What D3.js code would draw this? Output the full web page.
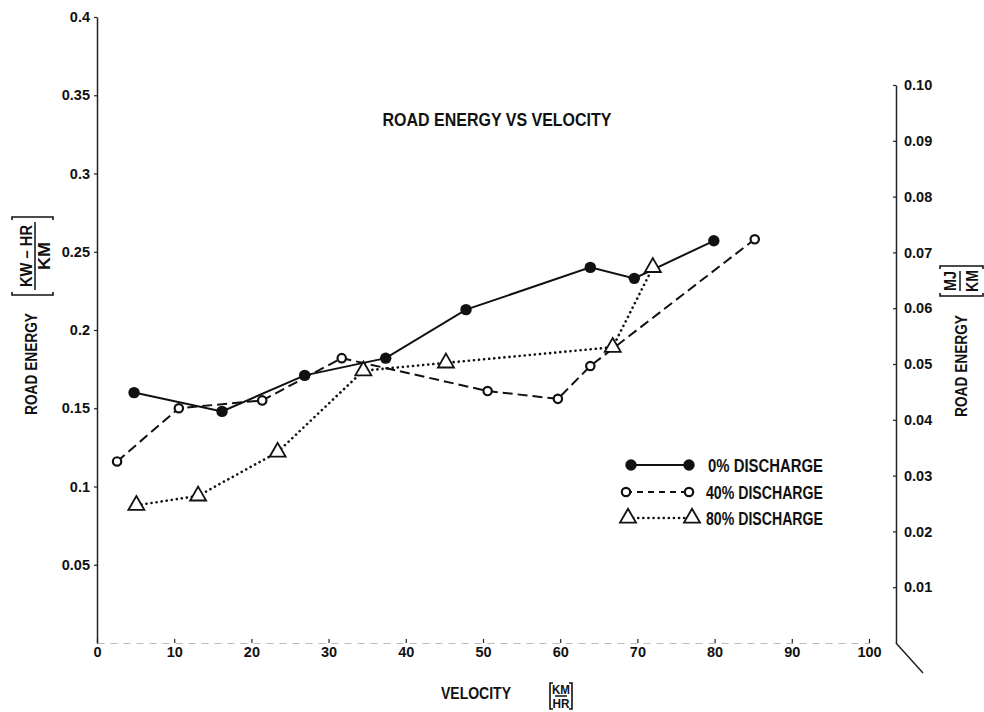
<!DOCTYPE html>
<html>
<head>
<meta charset="utf-8">
<script src="https://cdn.jsdelivr.net/npm/d3@7"></script>
<style>
  body { margin: 0; background: #fff; }
  svg text {
    font-family: "Liberation Sans", Arial, "DejaVu Sans Condensed", sans-serif;
    font-weight: bold;
    fill: #111;
  }
</style>
</head>
<body>
<div id="chart"></div>
<script>
// Values (velocity km/h, energy kW-hr/km)
var velocity0 = [4.8, 16.2, 26.9, 37.4, 47.8, 63.9, 69.6, 79.9];
var energy0 = [0.160, 0.148, 0.171, 0.182, 0.213, 0.240, 0.233, 0.257];

var velocity40 = [2.6, 10.6, 21.4, 31.7, 50.6, 59.7, 63.9, 85.2];
var energy40 = [0.116, 0.150, 0.155, 0.182, 0.161, 0.156, 0.177, 0.258];

var velocity80 = [5.1, 13.1, 23.4, 34.5, 45.2, 66.8, 72.0];
var energy80 = [0.088, 0.094, 0.122, 0.174, 0.179, 0.189, 0.240];

var seriesNames = ["0% DISCHARGE", "40% DISCHARGE", "80% DISCHARGE"];

var xTicks = [0, 10, 20, 30, 40, 50, 60, 70, 80, 90, 100];
var leftTicks = [0.05, 0.1, 0.15, 0.2, 0.25, 0.3, 0.35, 0.4];
var leftTickLabels = ["0.05", "0.1", "0.15", "0.2", "0.25", "0.3", "0.35", "0.4"];
var rightTicks = [0.01, 0.02, 0.03, 0.04, 0.05, 0.06, 0.07, 0.08, 0.09, 0.10];
var rightTickLabels = ["0.01", "0.02", "0.03", "0.04", "0.05", "0.06", "0.07", "0.08", "0.09", "0.10"];

// SVG container
var width = 984, height = 712;
var svg = d3.select("#chart")
    .append("svg")
    .attr("width", width)
    .attr("height", height);

// Scales
var x = d3.scaleLinear().domain([0, 100]).range([97, 869]);
var yLeft = d3.scaleLinear().domain([0, 0.4]).range([643, 17]);
var yRight = d3.scaleLinear().domain([0, 0.1]).range([643, 85]);

// Axes
var xAxis = svg.append("g")
    .attr("transform", "translate(0," + yLeft(0) + ")")
    .call(d3.axisBottom(x).tickValues(xTicks).tickFormat(d3.format("d"))
        .tickSizeInner(-4).tickSizeOuter(0).tickPadding(4));

var leftAxis = svg.append("g")
    .attr("transform", "translate(" + x(0) + ",0)")
    .call(d3.axisLeft(yLeft).tickValues(leftTicks)
        .tickFormat(function (d, i) { return leftTickLabels[i]; })
        .tickSizeInner(3).tickSizeOuter(0).tickPadding(4));

var rightX = 896;
var rightAxis = svg.append("g")
    .attr("transform", "translate(" + rightX + ",0)")
    .call(d3.axisRight(yRight).tickValues(rightTicks)
        .tickFormat(function (d, i) { return rightTickLabels[i]; })
        .tickSizeInner(-3).tickSizeOuter(0).tickPadding(8));

svg.selectAll(".tick text").style("font-size", "14.5px");
svg.selectAll(".tick line").attr("stroke", "#222").attr("stroke-width", 1.2);
leftAxis.select(".domain").attr("stroke", "#222").attr("stroke-width", 1.5);
rightAxis.select(".domain").attr("stroke", "#222").attr("stroke-width", 1.5);
xAxis.select(".domain").attr("stroke", "#bbb").attr("stroke-width", 1).attr("stroke-dasharray", "7,6");

// little slanted stroke under the right axis
svg.append("line")
    .attr("x1", rightX).attr("y1", yRight(0))
    .attr("x2", rightX + 27).attr("y2", yRight(0) + 30)
    .attr("stroke", "#222").attr("stroke-width", 1.5);

// Series
function pairs(vs, es) {
    return vs.map(function (v, i) { return {v: v, e: es[i]}; });
}
var data0 = pairs(velocity0, energy0);
var data40 = pairs(velocity40, energy40);
var data80 = pairs(velocity80, energy80);

var line = d3.line()
    .x(function (d) { return x(d.v); })
    .y(function (d) { return yLeft(d.e); });

var lineStyles = [
    {dash: null, width: 2, cap: "butt"},
    {dash: "10,5", width: 2, cap: "butt"},
    {dash: "0.1,5", width: 2.6, cap: "round"}
];

[data0, data40, data80].forEach(function (d, i) {
    svg.append("path")
        .datum(d)
        .attr("d", line)
        .attr("fill", "none")
        .attr("stroke", "#111")
        .attr("stroke-width", lineStyles[i].width)
        .attr("stroke-linecap", lineStyles[i].cap)
        .attr("stroke-dasharray", lineStyles[i].dash);
});

// triangle marker path, side s
function trianglePath(s) {
    var h = s * Math.sqrt(3) / 2;
    return "M0," + (-2 * h / 3) + "L" + (s / 2) + "," + (h / 3) + "L" + (-s / 2) + "," + (h / 3) + "Z";
}

function drawMarker(g, kind, cx, cy) {
    if (kind === 0) {
        g.append("circle").attr("cx", cx).attr("cy", cy).attr("r", 5.7).attr("fill", "#111");
    } else if (kind === 1) {
        g.append("circle").attr("cx", cx).attr("cy", cy).attr("r", 4.2)
            .attr("fill", "#fff").attr("stroke", "#111").attr("stroke-width", 2.2);
    } else {
        g.append("path").attr("d", trianglePath(16))
            .attr("transform", "translate(" + cx + "," + cy + ")")
            .attr("fill", "#fff").attr("stroke", "#111").attr("stroke-width", 1.8);
    }
}

var marks = svg.append("g");
[data0, data40, data80].forEach(function (d, i) {
    d.forEach(function (p) {
        drawMarker(marks, i, x(p.v), yLeft(p.e));
    });
});

// Legend
var legendRows = [465, 492, 518];
var legendX = [[631, 689], [626, 689], [628, 692]];
var legend = svg.append("g");
seriesNames.forEach(function (name, i) {
    var y = legendRows[i];
    legend.append("line")
        .attr("x1", legendX[i][0]).attr("x2", legendX[i][1])
        .attr("y1", y).attr("y2", y)
        .attr("stroke", "#111")
        .attr("stroke-width", lineStyles[i].width)
        .attr("stroke-linecap", lineStyles[i].cap)
        .attr("stroke-dasharray", i === 1 ? "6,5" : lineStyles[i].dash);
    drawMarker(legend, i, legendX[i][0], y);
    drawMarker(legend, i, legendX[i][1], y);
    legend.append("text")
        .attr("x", i === 0 ? 708 : 706).attr("y", y + 6.5)
        .attr("textLength", i === 0 ? 115 : 117)
        .attr("lengthAdjust", "spacingAndGlyphs")
        .style("font-size", "18px")
        .text(name);
});

// Title
svg.append("text")
    .attr("x", 497).attr("y", 126)
    .attr("text-anchor", "middle")
    .attr("textLength", 229)
    .attr("lengthAdjust", "spacingAndGlyphs")
    .style("font-size", "18px")
    .text("ROAD ENERGY VS VELOCITY");

// squeezed text, like the narrow lettering of the original
function narrowText(g, tx, ty, size, len, str) {
    return g.append("text")
        .attr("x", tx).attr("y", ty)
        .attr("text-anchor", "middle")
        .attr("textLength", len)
        .attr("lengthAdjust", "spacingAndGlyphs")
        .style("font-size", size + "px")
        .text(str);
}

// Bracketed unit fraction, drawn horizontally in its own frame
function unitFraction(g, num, den, halfW, top, bottom, numY, denY, size, numLen, denLen) {
    narrowText(g, 0, numY, size, numLen, num);
    g.append("line").attr("x1", -halfW + 5).attr("x2", halfW - 5)
        .attr("y1", 0).attr("y2", 0).attr("stroke", "#111").attr("stroke-width", 1.5);
    narrowText(g, 0, denY, size, denLen, den);
    g.append("path")
        .attr("d", "M" + (-halfW + 3) + "," + top + "H" + (-halfW) + "V" + bottom + "H" + (-halfW + 3) +
            "M" + (halfW - 3) + "," + top + "H" + halfW + "V" + bottom + "H" + (halfW - 3))
        .attr("fill", "none").attr("stroke", "#111").attr("stroke-width", 1.6);
}

// Left axis title
narrowText(svg.append("g").attr("transform", "translate(37,364) rotate(-90)"),
    0, 0, 17, 102, "ROAD ENERGY");
unitFraction(svg.append("g").attr("transform", "translate(35,256) rotate(-90)"),
    "KW \u2013 HR", "KM", 39, -23, 18, -3, 15, 16, 62, 28);

// Right axis title
narrowText(svg.append("g").attr("transform", "translate(967,366) rotate(-90)"),
    0, 0, 17, 102, "ROAD ENERGY");
unitFraction(svg.append("g").attr("transform", "translate(960,281) rotate(-90)"),
    "MJ", "KM", 15, -20, 23, -4, 18, 16, 20, 22);

// X axis title
narrowText(svg, 476, 699, 17, 70, "VELOCITY");
unitFraction(svg.append("g").attr("transform", "translate(561,696)"),
    "KM", "HR", 11, -13, 13, -2, 11.5, 13, 18, 17);
</script>
</body>
</html>
